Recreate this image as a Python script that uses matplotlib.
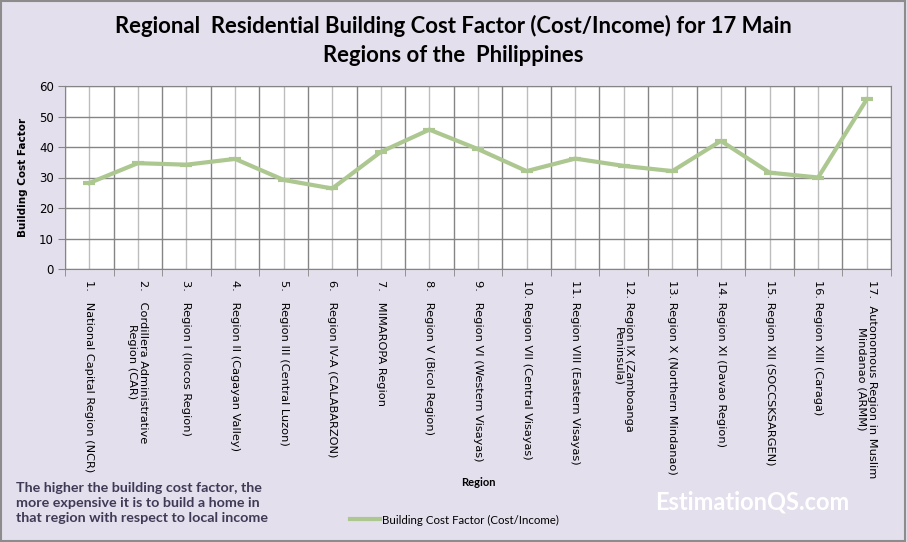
import numpy as np
import matplotlib
matplotlib.use("Agg")
import matplotlib.pyplot as plt
from matplotlib.patches import Rectangle
from matplotlib.ticker import FixedLocator, MultipleLocator

regions = [
    "1.   National Capital Region (NCR)",
    "2.   Cordillera Administrative\nRegion (CAR)",
    "3.   Region I (Ilocos Region)",
    "4.   Region II (Cagayan Valley)",
    "5.   Region III (Central Luzon)",
    "6.   Region IV-A (CALABARZON)",
    "7.   MIMAROPA Region",
    "8.   Region V (Bicol Region)",
    "9.   Region VI (Western Visayas)",
    "10. Region VII (Central Visayas)",
    "11. Region VIII (Eastern Visayas)",
    "12. Region IX (Zamboanga\nPeninsula)",
    "13. Region X (Northern Mindanao)",
    "14. Region XI (Davao Region)",
    "15. Region XII (SOCCSKSARGEN)",
    "16. Region XIII (Caraga)",
    "17.  Autonomous Region in Muslim\nMindanao (ARMM)",
]
cost_factor = [28.2, 34.7, 34.2, 36.1, 29.2, 26.4, 38.4, 45.7, 39.3,
               32.1, 36.2, 33.8, 32.1, 42.0, 31.6, 30.0, 55.6]

BG = "#e4dfec"
LINE = "#adc791"

fig = plt.figure(figsize=(9.07, 5.42), dpi=100, facecolor=BG)
fig.patches.append(Rectangle((0.001, 0.002), 0.997, 0.996, transform=fig.transFigure,
                             fill=False, edgecolor="#8c8c8c", lw=1.5))

ax = fig.add_axes([65 / 907, 1 - 269 / 542, (891 - 65) / 907, (269 - 86) / 542])
ax.set_facecolor("white")

x = np.arange(1, len(cost_factor) + 1)
ax.plot(x, cost_factor, color=LINE, lw=3, marker="_", ms=9, mew=3,
        label="Building Cost Factor (Cost/Income)", zorder=3)

ax.set_xlim(0.5, len(cost_factor) + 0.5)
ax.set_ylim(0, 60)
ax.yaxis.set_major_locator(MultipleLocator(10))
ax.xaxis.set_major_locator(FixedLocator(x))
ax.xaxis.set_minor_locator(FixedLocator(np.arange(0.5, len(cost_factor) + 1, 1)))
ax.set_xticklabels(regions, rotation=270, ha="center", va="top",
                   multialignment="center", fontsize=8.2, linespacing=1.1)

ax.grid(which="major", axis="x", color="#bdbdbd", lw=1)
ax.grid(which="minor", axis="x", color="#858585", lw=1)
ax.grid(which="major", axis="y", color="#858585", lw=1)
ax.set_axisbelow(True)

ax.tick_params(axis="x", which="major", length=0, pad=8)
ax.tick_params(axis="x", which="minor", length=5, color="#858585", direction="out")
ax.tick_params(axis="y", length=5, color="#858585", labelsize=8.5, pad=3)
for s in ax.spines.values():
    s.set_color("#858585")

ax.set_ylabel("Building Cost Factor", fontsize=7.5, fontweight="bold", labelpad=8)

fig.text(0.5, 1 - 26 / 542, "Regional  Residential Building Cost Factor (Cost/Income) for 17 Main",
         ha="center", va="center", fontsize=15.9, fontweight="bold", family="Lato")
fig.text(0.5, 1 - 56 / 542, "Regions of the  Philippines",
         ha="center", va="center", fontsize=15.9, fontweight="bold", family="Lato")

fig.text(478 / 907, 1 - 483 / 542, "Region", ha="center", va="center",
         fontsize=8, fontweight="bold", family="Lato")

fig.text(16 / 907, 1 - 503 / 542,
         "The higher the building cost factor, the\nmore expensive it is to build a home in\n"
         "that region with respect to local income",
         ha="left", va="center", fontsize=10.3, fontweight="bold", family="Lato",
         color="#3f3a55", linespacing=1.35)

fig.text(752 / 907, 1 - 502 / 542, "EstimationQS.com", ha="center", va="center",
         fontsize=17, fontweight="bold", family="Lato", color="white")

leg = ax.legend(loc="center left", bbox_to_anchor=(340 / 907, 1 - 520 / 542),
                bbox_transform=fig.transFigure, frameon=False, handlelength=2.6,
                handletextpad=0.1, prop={"family": "Lato", "size": 8.3})
for h in leg.legend_handles:
    h.set_marker("")

fig.savefig("out.png", dpi=100, facecolor=BG)
